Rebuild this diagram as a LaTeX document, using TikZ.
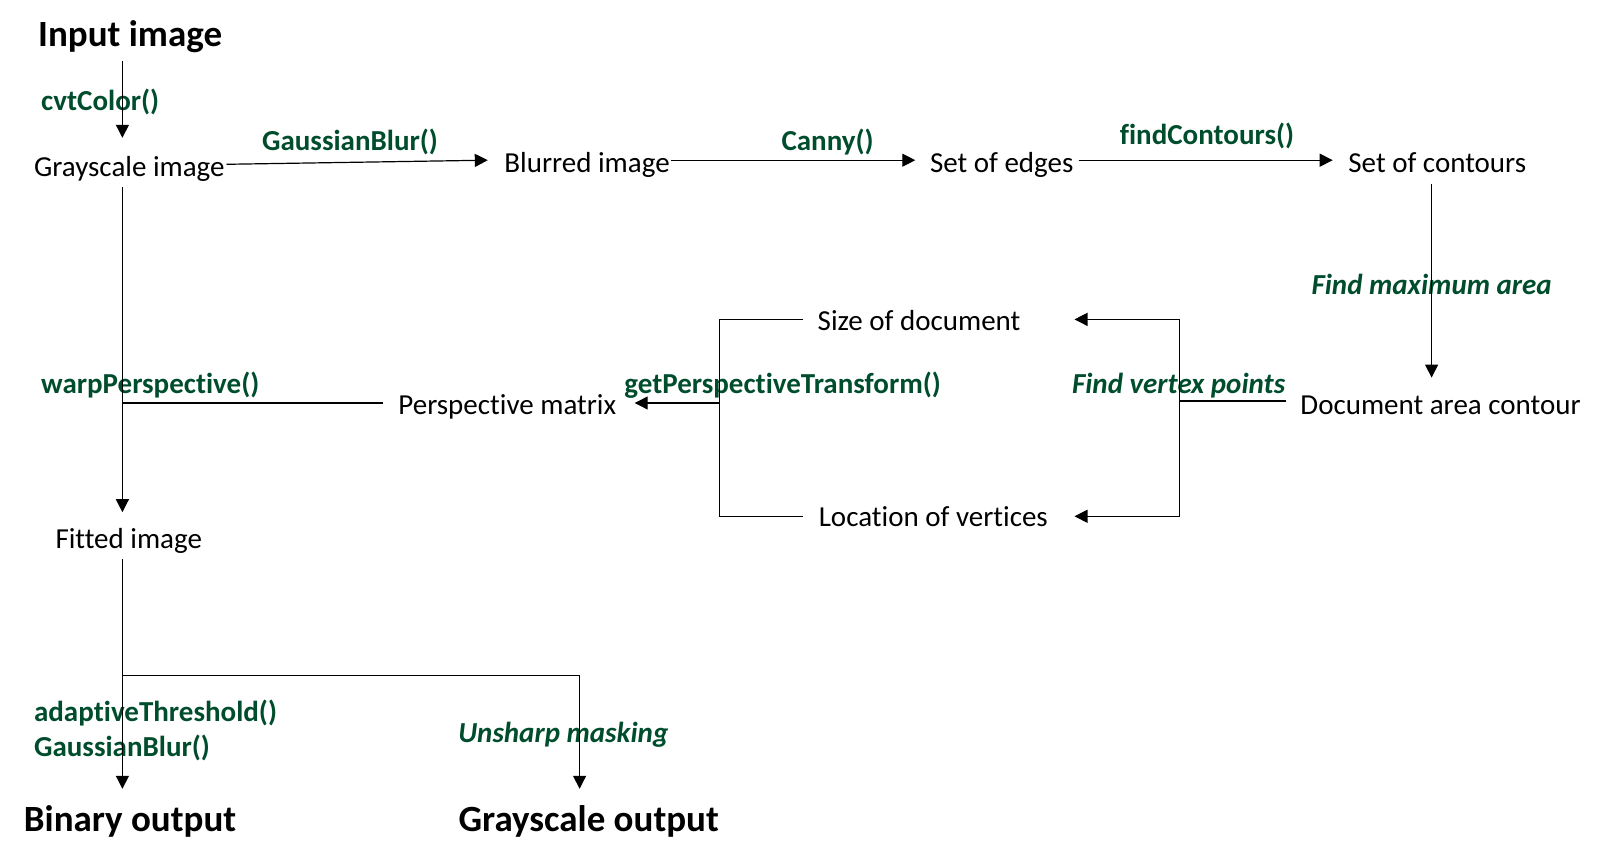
\documentclass[tikz,border=0pt]{standalone}
\usepackage{fontspec}
\setmainfont[Ligatures=NoCommon]{Carlito}
\usetikzlibrary{arrows.meta}
\definecolor{lblgreen}{RGB}{0,77,45}
\begin{document}
\begin{tikzpicture}[x=0.5pt,y=-0.5pt,
  txt/.style={inner sep=0,anchor=west,yshift=-2.6pt,font=\fontsize{14.5}{17}\selectfont,text height=0.7em,text depth=0.2em},
  big/.style={inner sep=0,anchor=west,yshift=-2.8pt,font=\fontsize{18.5}{22}\selectfont\bfseries,text height=0.7em,text depth=0.2em},
  lbl/.style={inner sep=0,yshift=-2.6pt,font=\fontsize{14.5}{17}\selectfont\bfseries,text=lblgreen,text height=0.7em,text depth=0.2em},
  lbli/.style={lbl,font=\fontsize{14.5}{17}\selectfont\bfseries\itshape},
  ln/.style={line width=0.6pt,black},
  arr/.style={ln,-{Triangle[length=6.5pt,width=6.5pt]}}]
\useasboundingbox (0,0) rectangle (1600,865);
% main nodes
\node[big] (input) at (37.8,35.7) {Input image};
\node[txt] (gray) at (33.7,166.3) {Grayscale image};
\node[txt] (blur) at (504,162.2) {Blurred image};
\node[txt] (edges) at (929.6,162.2) {Set of edges};
\node[txt] (cont) at (1348,162.2) {Set of contours};
\node[txt] (doc) at (1300,404) {Document area contour};
\node[txt] (size) at (817.3,320.4) {Size of document};
\node[txt] (loc) at (818.4,516.3) {Location of vertices};
\node[txt] (persp) at (398,404) {Perspective matrix};
\node[txt] (fit) at (55.1,538.8) {Fitted image};
\node[big] (bin) at (23.5,820.4) {Binary output};
\node[big] (gout) at (458.2,820.4) {Grayscale output};
% labels
\node[lbl,anchor=west] (l1) at (40.8,100) {cvtColor()};
\node[lbl] (l2) at (350,140.8) {GaussianBlur()};
\node[lbl] (l3) at (827.6,140.8) {Canny()};
\node[lbl] (l4) at (1207,134.7) {findContours()};
\node[lbli] (l5) at (1431.6,284.7) {Find maximum area};
\node[lbli] (l6) at (1178.6,383.7) {Find vertex points};
\node[lbl] (l7) at (782.7,383.7) {getPerspectiveTransform()};
\node[lbl,anchor=west] (l8) at (40.8,383.7) {warpPerspective()};
\node[lbl,anchor=west] (l9) at (33.7,711.2) {adaptiveThreshold()};
\node[lbl,anchor=west] (l10) at (33.7,746) {GaussianBlur()};
\node[lbli] (l11) at (563.3,732.7) {Unsharp masking};
% connector end points
\coordinate (inS) at (122.4,61);
\coordinate (grN) at (122.4,137.8);
\coordinate (grE) at (226.5,164.3);
\coordinate (blW) at (487.8,160.2);
\coordinate (blE) at (671.4,160.2);
\coordinate (edW) at (915.3,160.2);
\coordinate (edE) at (1078.6,160.2);
\coordinate (coW) at (1332.7,160.2);
\coordinate (coS) at (1431.6,183.7);
\coordinate (doN) at (1431.6,377.6);
\coordinate (doW) at (1285.7,401);
\coordinate (rj) at (1179.6,401);
\coordinate (siE) at (1074.5,319.4);
\coordinate (loE) at (1074.5,516.3);
\coordinate (siW) at (803,319.4);
\coordinate (loW) at (803,516.3);
\coordinate (lj) at (719.4,403);
\coordinate (peE) at (634.7,403);
\coordinate (peW) at (382.7,403);
\coordinate (tj) at (122.4,403);
\coordinate (grS) at (122.4,186.7);
\coordinate (fiN) at (122.4,512.2);
\coordinate (fiS) at (122.4,559);
\coordinate (bj) at (122.4,675.5);
\coordinate (biN) at (122.4,788.8);
\coordinate (goN) at (579.6,788.8);
% connectors
\draw[arr] (inS) -- (grN);
\draw[arr] (grE) -- (blW);
\draw[arr] (blE) -- (edW);
\draw[arr] (edE) -- (coW);
\draw[arr] (coS) -- (doN);
\draw[ln] (doW) -- (rj);
\draw[arr] (rj) |- (siE);
\draw[arr] (rj) |- (loE);
\draw[ln] (siW) -| (lj) |- (loW);
\draw[arr] (lj) -- (peE);
\draw[ln] (peW) -- (tj);
\draw[arr] (grS) -- (fiN);
\draw[arr] (fiS) -- (biN);
\draw[arr] (bj) -| (goN);
\end{tikzpicture}
\end{document}
